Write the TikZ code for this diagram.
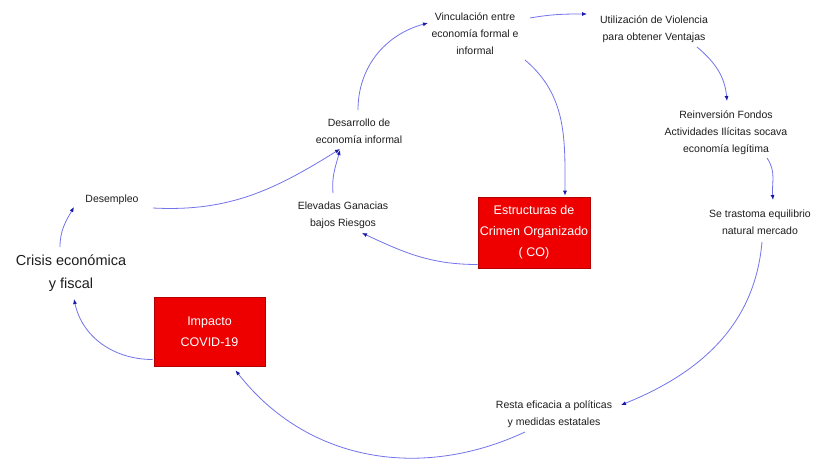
\documentclass[tikz,border=0pt]{standalone}
\usepackage{fontspec}
\setmainfont{Liberation Sans}
\usetikzlibrary{arrows.meta,calc}
\definecolor{linkc}{RGB}{115,115,235}
\definecolor{tipc}{RGB}{25,25,170}
\definecolor{boxred}{RGB}{238,0,0}
\definecolor{txt}{RGB}{30,30,30}
\tikzset{
  lbl/.style={align=center,inner sep=0pt,text=txt,font=\fontsize{10.5}{17}\selectfont},
  big/.style={align=center,inner sep=0pt,text=txt,font=\fontsize{14.5}{23}\selectfont},
  redbox/.style={fill=boxred,draw=red!70!black,line width=0.6pt,text=white,align=center,
    inner sep=0pt,font=\fontsize{12.5}{21}\selectfont},
  link/.style={draw=linkc,line width=0.8pt,-{Latex[length=5pt,width=4pt,color=tipc]}}
}
\begin{document}
\begin{tikzpicture}[x=1pt,y=1pt]
\useasboundingbox (0,0) rectangle (822,-459);
\fill[white] (0,0) rectangle (822,-459);
% nodes
\node[lbl] (vinc) at (475,-34) {Vinculación entre\\economía formal e\\informal};
\node[lbl] (util) at (654,-29) {Utilización de Violencia\\para obtener Ventajas};
\node[lbl] (rein) at (726,-133) {Reinversión Fondos\\Actividades Ilícitas socava\\economía legítima};
\node[lbl] (tras) at (760,-222) {Se trastoma equilibrio\\natural mercado};
\node[lbl] (resta) at (554,-414) {Resta eficacia a políticas\\y medidas estatales};
\node[lbl] (elev) at (343,-215) {Elevadas Ganacias\\bajos Riesgos};
\node[lbl] (desarr) at (359,-131) {Desarrollo de\\economía informal};
\node[lbl] (desemp) at (112,-200) {Desempleo};
\node[big] (crisis) at (71,-273) {Crisis económica\\y fiscal};
\node[redbox,minimum width=111pt,minimum height=69pt] (covid) at (209.5,-331.5) {Impacto\\COVID-19};
\node[redbox,minimum width=112pt,minimum height=71pt] (co) at (534,-232.5) {Estructuras de\\Crimen Organizado\\( CO)};
% connectors
\draw[link] ($(desemp)+(41,-8)$) to[out=-3,in=212] ($(desarr)+(-19,-18)$);
\draw[link] ($(elev)+(-10,22)$) to[out=95,in=255] ($(desarr)+(-19,-19)$);
\draw[link] ($(desarr)+(-1,21)$) to[out=90,in=195] ($(vinc)+(-47,11)$);
\draw[link] ($(vinc)+(55,16)$) to[out=10,in=180] ($(util)+(-67,15)$);
\draw[link] ($(vinc)+(50,-26)$) to[out=-40,in=90] ($(co.north)+(31,1)$);
\draw[link] ($(util)+(43,-18)$) to[out=-40,in=95] ($(rein)+(1,32)$);
\draw[link] ($(rein)+(41,-25)$) to[out=-55,in=95] ($(tras)+(13,22)$);
\draw[link] ($(tras)+(2,-20)$) to[out=-95,in=22] ($(resta)+(67,9)$);
\draw[link] ($(resta)+(-29,-18)$) to[out=205,in=-52] ($(covid.south)+(26,-4)$);
\draw[link] ($(covid.west)+(-1,-28)$) to[out=180,in=-78] ($(crisis)+(3,-26)$);
\draw[link] ($(crisis)+(-11,26)$) to[out=90,in=240] ($(desemp)+(-38,-7)$);
\draw[link] ($(co.west)+(0,-32)$) to[out=180,in=-25] ($(elev)+(19,-18)$);
\end{tikzpicture}
\end{document}
